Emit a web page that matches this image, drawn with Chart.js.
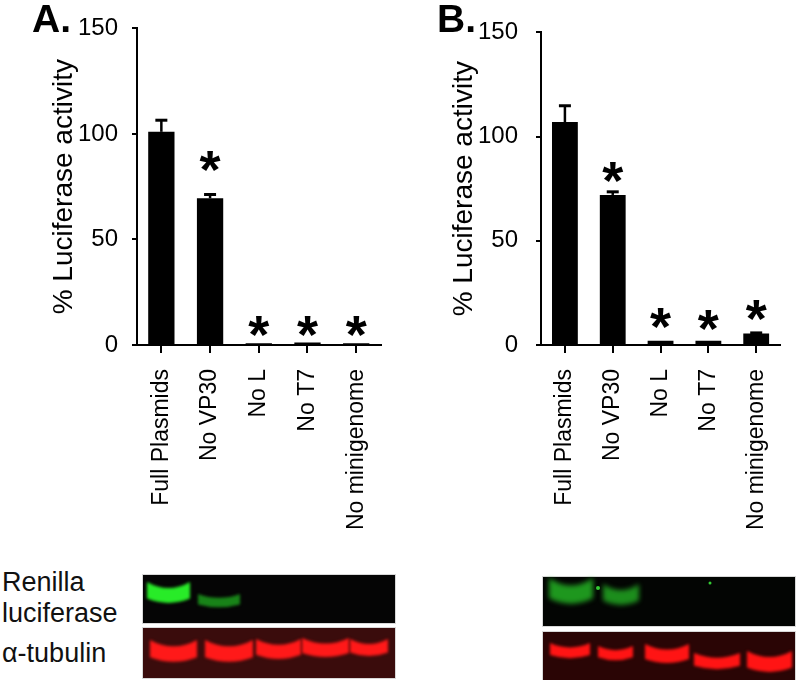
<!DOCTYPE html>
<html>
<head>
<meta charset="utf-8">
<script src="https://cdn.jsdelivr.net/npm/chart.js@4.4.1/dist/chart.umd.min.js"></script>
<style>
  body { margin: 0; background: #fff; width: 800px; height: 680px; position: relative; overflow: hidden;
         font-family: "Liberation Sans", Arial, sans-serif; }
  .box { position: absolute; top: 0; width: 400px; height: 545px; }
  .panel { position: absolute; top: 0; font-weight: bold; font-size: 39px; line-height: 38px; color: #000; }
  .lbl { position: absolute; left: 2px; font-size: 27px; line-height: 27px; color: #111; white-space: nowrap; }
  #blots { position: absolute; left: 0; top: 560px; }
</style>
</head>
<body>
<div class="box" style="left:0"><canvas id="chartA" width="400" height="545"></canvas></div>
<div class="box" style="left:400px"><canvas id="chartB" width="400" height="545"></canvas></div>
<div class="panel" style="left:32px">A.</div>
<div class="panel" style="left:437px">B.</div>
<div class="lbl" style="top:569px">Renilla</div>
<div class="lbl" style="top:600px">luciferase</div>
<div class="lbl" style="top:640px">α-tubulin</div>
<canvas id="blots" width="800" height="120"></canvas>

<script>
const labels = ['Full Plasmids', 'No VP30', 'No L', 'No T7', 'No minigenome'];
const yTicks = [0, 50, 100, 150];

// panel A
const valuesA = [101, 69.5, 0.8, 1.2, 0.8];
const errorsA = [5.5, 1.8, 0, 0, 0];
const starsA = [null, 89, 10.7, 10.7, 10.7];   // where the asterisks sit (y units)

// panel B
const valuesB = [107, 72, 2, 2, 5.5];
const errorsB = [7.8, 1.5, 0, 0, 0.3];
const starsB = [null, 85, 15, 14, 18.7];

// western blot band strength per lane
const greenA = [1, 0.55, 0, 0, 0];
const redA = [1, 1, 1, 1, 1];
const greenB = [0.75, 0.7, 0, 0, 0];
const redB = [1, 1, 1, 1, 1];

const FONT = '"Liberation Sans", Arial, sans-serif';

// error bars + significance stars
const errorBars = {
  id: 'errorBars',
  afterDatasetsDraw(chart, args, o) {
    const { ctx, scales: { x, y } } = chart;
    const data = chart.data.datasets[0].data;
    ctx.save();
    ctx.strokeStyle = '#000';
    ctx.fillStyle = '#000';
    o.errors.forEach((e, i) => {
      if (!e) return;
      const px = x.getPixelForValue(i);
      const y0 = y.getPixelForValue(data[i]);
      const y1 = y.getPixelForValue(data[i] + e);
      ctx.lineWidth = 2.5;
      ctx.beginPath(); ctx.moveTo(px, y0); ctx.lineTo(px, y1); ctx.stroke();
      ctx.lineWidth = 3;
      ctx.beginPath(); ctx.moveTo(px - 6, y1); ctx.lineTo(px + 6, y1); ctx.stroke();
    });
    const size = 54;
    ctx.font = 'bold ' + size + 'px ' + FONT;
    ctx.textAlign = 'center';
    ctx.textBaseline = 'alphabetic';
    o.stars.forEach((s, i) => {
      if (s == null) return;
      ctx.fillText('*', x.getPixelForValue(i), y.getPixelForValue(s) + 0.57 * size);
    });
    ctx.restore();
  }
};

function makeChart(id, values, errors, stars, axisW, tickPad) {
  return new Chart(document.getElementById(id), {
    type: 'bar',
    data: {
      labels: labels,
      datasets: [{
        data: values,
        backgroundColor: '#000',
        borderWidth: 0,
        barPercentage: 0.54,
        categoryPercentage: 1
      }]
    },
    options: {
      responsive: false,
      animation: false,
      layout: { padding: { top: 24, right: 2, left: 0, bottom: 0 } },
      plugins: {
        legend: { display: false },
        tooltip: { enabled: false },
        errorBars: { errors: errors, stars: stars }
      },
      scales: {
        x: {
          grid: { display: true, drawOnChartArea: false, drawTicks: true, tickLength: 8,
                  color: '#000', lineWidth: 2, offset: false },
          border: { display: true, color: '#000', width: 2 },
          ticks: { color: '#000', font: { family: FONT, size: 23 }, maxRotation: 90, minRotation: 90,
                   padding: 16, autoSkip: false },
          afterFit(s) { s.height = 200; }
        },
        y: {
          min: 0, max: 150,
          afterBuildTicks(s) { s.ticks = yTicks.map(v => ({ value: v })); },
          ticks: { color: '#000', font: { family: FONT, size: 24 }, padding: tickPad },
          grid: { display: true, drawOnChartArea: false, tickLength: 5, color: '#000', lineWidth: 2 },
          border: { display: true, color: '#000', width: 2 },
          title: { display: true, text: '% Luciferase activity', color: '#000',
                   font: { family: FONT, size: 28 }, padding: { top: 47, bottom: 0 } },
          afterFit(s) { s.width = axisW; }
        }
      }
    },
    plugins: [errorBars]
  });
}

makeChart('chartA', valuesA, errorsA, starsA, 137, 14);
makeChart('chartB', valuesB, errorsB, starsB, 141, 18);

// ---- blots ----
const bctx = document.getElementById('blots').getContext('2d');

function band(ctx, x0, x1, y0, y1, color, blur) {
  const h = y1 - y0, mid = (x0 + x1) / 2;
  ctx.save();
  ctx.filter = 'blur(' + blur + 'px)';
  ctx.fillStyle = color;
  ctx.beginPath();
  ctx.moveTo(x0, y0);
  ctx.quadraticCurveTo(mid, y0 + h * 0.55, x1, y0);
  ctx.lineTo(x1, y1 - h * 0.25);
  ctx.quadraticCurveTo(mid, y1 + h * 0.15, x0, y1 - h * 0.25);
  ctx.closePath();
  ctx.fill();
  ctx.restore();
}

function panel(ctx, x, y, w, h, bg) {
  ctx.fillStyle = '#d8d8d8';
  ctx.fillRect(x - 1, y - 1, w + 2, h + 2);
  ctx.fillStyle = bg;
  ctx.fillRect(x, y, w, h);
}

// A
panel(bctx, 143, 15, 252, 48, '#050505');
panel(bctx, 143, 68, 252, 50, '#3a0c0c');
const laneGA = [[147, 190, 22, 44], [198, 240, 34, 48]];
greenA.forEach((g, i) => {
  if (!g) return;
  const L = laneGA[i];
  band(bctx, L[0], L[1], L[2], L[3], 'rgba(40,235,40,' + g + ')', 1.5);
});
const laneRA = [[150, 197, 80, 103], [205, 253, 80, 103], [256, 301, 79, 100], [302, 349, 78, 98], [350, 388, 79, 97]];
redA.forEach((r, i) => {
  const L = laneRA[i];
  band(bctx, L[0], L[1], L[2], L[3], 'rgba(255,25,25,' + r + ')', 1.5);
});

// B
panel(bctx, 543, 17, 252, 49, '#030503');
panel(bctx, 543, 72, 252, 50, '#2a0505');
const laneGB = [[549, 593, 18, 45], [603, 639, 24, 46]];
greenB.forEach((g, i) => {
  if (!g) return;
  const L = laneGB[i];
  band(bctx, L[0], L[1], L[2], L[3], 'rgba(40,200,40,' + g + ')', 2.5);
});
bctx.fillStyle = '#3c3';
bctx.beginPath(); bctx.arc(598, 28, 2, 0, Math.PI * 2); bctx.fill();
bctx.beginPath(); bctx.arc(710, 23, 1.5, 0, Math.PI * 2); bctx.fill();
const laneRB = [[550, 590, 83, 99], [598, 633, 86, 101], [645, 689, 84, 104], [694, 740, 93, 110], [747, 792, 91, 113]];
redB.forEach((r, i) => {
  const L = laneRB[i];
  band(bctx, L[0], L[1], L[2], L[3], 'rgba(255,20,20,' + r + ')', 1.5);
});
</script>
</body>
</html>
